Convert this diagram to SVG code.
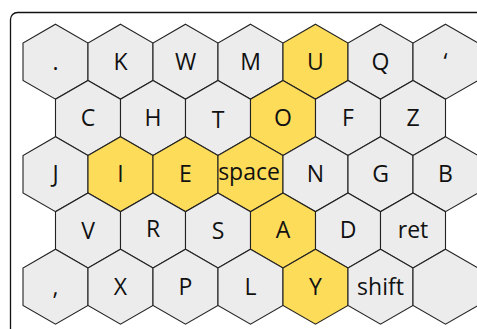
<svg xmlns="http://www.w3.org/2000/svg" width="477" height="329" viewBox="0 0 477 329">
<style>
.h{fill:#ececec;stroke:#222;stroke-width:1.1}
.y{fill:#fddc5a}
text{font-family:"Open Sans","Noto Sans",sans-serif;font-size:23px;fill:#111;text-anchor:middle}
</style>
<defs>
<polygon id="hx" points="0,-37.5 32.5,-18.75 32.5,18.75 0,37.5 -32.5,18.75 -32.5,-18.75"/>
</defs>
<rect x="10.5" y="12.5" width="480" height="330" rx="7" fill="#fff" stroke="#111" stroke-width="1.3"/>
<g id="connectors"/>
<g id="n-dot" transform="translate(55.5,61.7)"><use href="#hx" class="h"/><text y="8">.</text></g>
<g id="n-K" transform="translate(120.5,61.7)"><use href="#hx" class="h"/><text y="8">K</text></g>
<g id="n-W" transform="translate(185.5,61.7)"><use href="#hx" class="h"/><text y="8">W</text></g>
<g id="n-M" transform="translate(250.5,61.7)"><use href="#hx" class="h"/><text y="8">M</text></g>
<g id="n-U" transform="translate(315.5,61.7)"><use href="#hx" class="h y"/><text y="8">U</text></g>
<g id="n-Q" transform="translate(380.5,61.7)"><use href="#hx" class="h"/><text y="8">Q</text></g>
<g id="n-apos" transform="translate(445.5,61.7)"><use href="#hx" class="h"/><text y="8">‘</text></g>

<g id="n-C" transform="translate(88,117.9)"><use href="#hx" class="h"/><text y="8">C</text></g>
<g id="n-H" transform="translate(153,117.9)"><use href="#hx" class="h"/><text y="8">H</text></g>
<g id="n-T" transform="translate(218,117.9)"><use href="#hx" class="h"/><text y="10">T</text></g>
<g id="n-O" transform="translate(283,117.9)"><use href="#hx" class="h y"/><text y="8">O</text></g>
<g id="n-F" transform="translate(348,117.9)"><use href="#hx" class="h"/><text y="8">F</text></g>
<g id="n-Z" transform="translate(413,117.9)"><use href="#hx" class="h"/><text y="8">Z</text></g>

<g id="n-J" transform="translate(55.5,174.2)"><use href="#hx" class="h"/><text y="8">J</text></g>
<g id="n-I" transform="translate(120.5,174.2)"><use href="#hx" class="h y"/><text y="8">I</text></g>
<g id="n-E" transform="translate(185.5,174.2)"><use href="#hx" class="h y"/><text y="8">E</text></g>
<g id="n-space" transform="translate(250.5,174.2)"><use href="#hx" class="h y"/><text x="-1.5" y="6">space</text></g>
<g id="n-N" transform="translate(315.5,174.2)"><use href="#hx" class="h"/><text y="8">N</text></g>
<g id="n-G" transform="translate(380.5,174.2)"><use href="#hx" class="h"/><text y="8">G</text></g>
<g id="n-B" transform="translate(445.5,174.2)"><use href="#hx" class="h"/><text y="8">B</text></g>

<g id="n-V" transform="translate(88,230.4)"><use href="#hx" class="h"/><text y="9">V</text></g>
<g id="n-R" transform="translate(153,230.4)"><use href="#hx" class="h"/><text y="7">R</text></g>
<g id="n-S" transform="translate(218,230.4)"><use href="#hx" class="h"/><text y="9">S</text></g>
<g id="n-A" transform="translate(283,230.4)"><use href="#hx" class="h y"/><text y="8">A</text></g>
<g id="n-D" transform="translate(348,230.4)"><use href="#hx" class="h"/><text y="8">D</text></g>
<g id="n-ret" transform="translate(413,230.4)"><use href="#hx" class="h"/><text y="8">ret</text></g>

<g id="n-comma" transform="translate(55.5,286.7)"><use href="#hx" class="h"/><text y="8">,</text></g>
<g id="n-X" transform="translate(120.5,286.7)"><use href="#hx" class="h"/><text y="8">X</text></g>
<g id="n-P" transform="translate(185.5,286.7)"><use href="#hx" class="h"/><text y="8">P</text></g>
<g id="n-L" transform="translate(250.5,286.7)"><use href="#hx" class="h"/><text y="8">L</text></g>
<g id="n-Y" transform="translate(315.5,286.7)"><use href="#hx" class="h y"/><text y="8">Y</text></g>
<g id="n-shift" transform="translate(380.5,286.7)"><use href="#hx" class="h"/><text y="8">shift</text></g>
<g id="n-blank" transform="translate(445.5,286.7)"><use href="#hx" class="h"/></g>
</svg>
